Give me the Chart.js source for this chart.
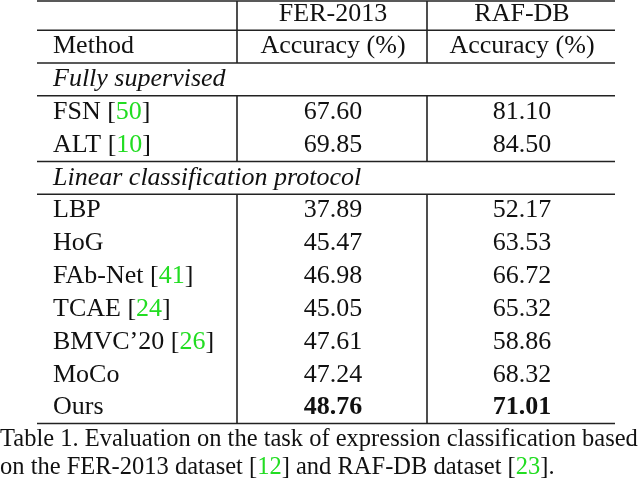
<!DOCTYPE html>
<html>
<head>
<meta charset="utf-8">
<script src="https://cdn.jsdelivr.net/npm/chart.js@4"></script>
<style>
  body { margin: 0; background: #fff; }
  #wrap { width: 640px; height: 482px; }
</style>
</head>
<body>
<div id="wrap"><canvas id="tbl" width="640" height="482"></canvas></div>
<script>
const datasetNames = ['FER-2013', 'RAF-DB'];
const metricLabel = 'Accuracy (%)';
const supervisedMethods = ['FSN', 'ALT'];
const supervisedRefs = ['50', '10'];
const supervisedFer = [67.60, 69.85];
const supervisedRaf = [81.10, 84.50];
const linearMethods = ['LBP', 'HoG', 'FAb-Net', 'TCAE', 'BMVC’20', 'MoCo', 'Ours'];
const linearRefs = [null, null, '41', '24', '26', null, null];
const linearFer = [37.89, 45.47, 46.98, 45.05, 47.61, 47.24, 48.76];
const linearRaf = [52.17, 63.53, 66.72, 65.32, 58.86, 68.32, 71.01];
const groupTitles = ['Fully supervised', 'Linear classification protocol'];

const GREEN = '#22dd22';
const serif = '"Liberation Serif", "DejaVu Serif", serif';
const FS = 26;

// row layout: 0,1 header; 2 group; 3-4 supervised; 5 group; 6-12 linear
const tablePlugin = {
  id: 'tablePlugin',
  afterDraw(chart) {
    const ctx = chart.ctx;
    const y = chart.scales.y;
    const Y = v => y.getPixelForValue(v);
    const L = 37, R = 615, V1 = 237, V2 = 427;
    const colC = [(V1 + V2) / 2 + 1, (V2 + R) / 2 + 1];
    ctx.save();
    ctx.strokeStyle = '#222';
    ctx.lineWidth = 1.6;
    const hline = (r) => { ctx.beginPath(); ctx.moveTo(L, r); ctx.lineTo(R, r); ctx.stroke(); };
    const vline = (a, b) => {
      [V1, V2].forEach(vx => { ctx.beginPath(); ctx.moveTo(vx, a); ctx.lineTo(vx, b); ctx.stroke(); });
    };
    const edge = i => (Y(i) + Y(i - 1)) / 2;
    const bottom = Y(12) + 16;
    hline(1); hline(edge(1)); hline(edge(2)); hline(edge(3)); hline(edge(5)); hline(edge(6));
    hline(bottom);
    vline(1, edge(2)); vline(edge(3), edge(5)); vline(edge(6), bottom);

    ctx.fillStyle = '#111';
    ctx.textBaseline = 'middle';
    const font = (s, style) => ctx.font = (style || '') + ' ' + s + 'px ' + serif;
    const text = (t, px, py, align) => { ctx.textAlign = align || 'left'; ctx.fillText(t, px, py); };
    const method = (name, ref, py) => {
      font(FS);
      ctx.textAlign = 'left';
      let px = 53;
      ctx.fillStyle = '#111';
      const head = ref ? name + ' [' : name;
      ctx.fillText(head, px, py); px += ctx.measureText(head).width;
      if (ref) {
        ctx.fillStyle = GREEN; ctx.fillText(ref, px, py); px += ctx.measureText(ref).width;
        ctx.fillStyle = '#111'; ctx.fillText(']', px, py);
      }
    };

    font(FS);
    text(datasetNames[0], colC[0], Y(0), 'center');
    text(datasetNames[1], colC[1], Y(0), 'center');
    text('Method', 53, Y(1));
    text(metricLabel, colC[0], Y(1), 'center');
    text(metricLabel, colC[1], Y(1), 'center');
    font(FS, 'italic');
    text(groupTitles[0], 53, Y(2));
    text(groupTitles[1], 53, Y(5));

    supervisedMethods.forEach((m, i) => {
      const py = Y(3 + i);
      method(m, supervisedRefs[i], py);
      font(FS); ctx.fillStyle = '#111';
      text(supervisedFer[i].toFixed(2), colC[0], py, 'center');
      text(supervisedRaf[i].toFixed(2), colC[1], py, 'center');
    });
    linearMethods.forEach((m, i) => {
      const py = Y(6 + i);
      method(m, linearRefs[i], py);
      const best = i === linearMethods.length - 1;
      font(FS, best ? 'bold' : ''); ctx.fillStyle = '#111';
      text(linearFer[i].toFixed(2), colC[0], py, 'center');
      text(linearRaf[i].toFixed(2), colC[1], py, 'center');
    });

    // caption
    font(24.5);
    ctx.fillStyle = '#111';
    text('Table 1. Evaluation on the task of expression classification based', 0, 440);
    let px = 0; const cy = 468;
    const parts = [['on the FER-2013 dataset [', '#111'], ['12', GREEN], ['] and RAF-DB dataset [', '#111'], ['23', GREEN], ['].', '#111']];
    ctx.textAlign = 'left';
    parts.forEach(([t, c]) => { ctx.fillStyle = c; ctx.fillText(t, px, cy); px += ctx.measureText(t).width; });
    ctx.restore();
  }
};

new Chart(document.getElementById('tbl'), {
  type: 'scatter',
  data: { datasets: [{ data: [], pointRadius: 0 }] },
  options: {
    responsive: false,
    animation: false,
    layout: { padding: 0 },
    plugins: { legend: { display: false }, tooltip: { enabled: false } },
    scales: {
      x: { type: 'linear', min: 0, max: 640, display: false },
      y: { type: 'linear', min: -0.42, max: 14.27, reverse: true, display: false }
    }
  },
  plugins: [tablePlugin]
});
</script>
</body>
</html>
